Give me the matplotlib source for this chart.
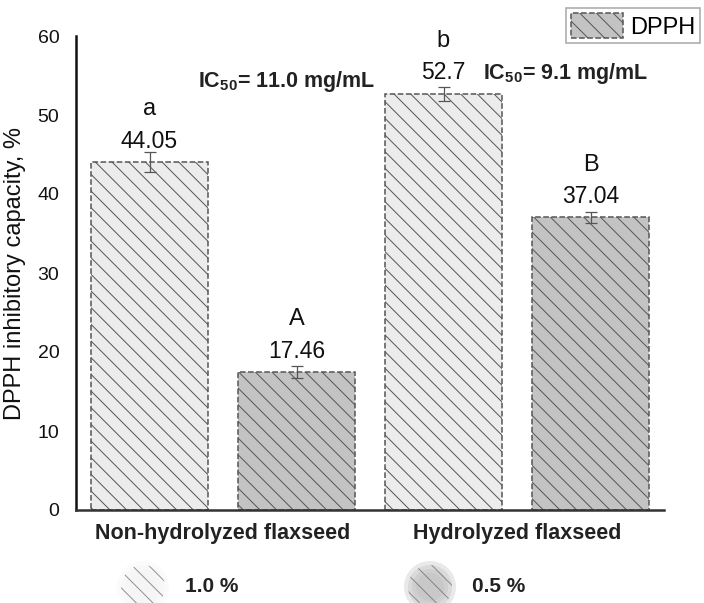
import numpy as np
import matplotlib
matplotlib.use("Agg")
import matplotlib.pyplot as plt
from matplotlib.patches import Patch, Circle

plt.rcParams['font.family'] = ['Liberation Sans', 'DejaVu Sans']
plt.rcParams['mathtext.fontset'] = 'custom'
plt.rcParams['mathtext.bf'] = 'Liberation Sans:bold'
plt.rcParams['mathtext.rm'] = 'Liberation Sans'
plt.rcParams['hatch.linewidth'] = 0.7
plt.rcParams['hatch.color'] = '#555555'

# Dados
groups = ["Non-hydrolyzed flaxseed", "Hydrolyzed flaxseed"]
conc_labels = ["1.0 %", "0.5 %"]
values = [44.05, 17.46, 52.7, 37.04]
errors = [1.3, 0.8, 0.9, 0.7]
value_labels = ["44.05", "17.46", "52.7", "37.04"]
letters = ["a", "A", "b", "B"]
ic50_labels = [r"$\mathbf{IC_{50}}$= 11.0 mg/mL", r"$\mathbf{IC_{50}}$= 9.1 mg/mL"]

light = '#ececec'
dark = '#c3c3c3'
colors = [light, dark, light, dark]

fig = plt.figure(figsize=(7.04, 6.03), dpi=100)
ax = fig.add_axes([76/704, 1 - 510/603, (664 - 76)/704, (510 - 36)/603])

x = np.arange(len(values))
ax.bar(x, values, width=0.8, color=colors, edgecolor='#555555', linestyle='--',
       linewidth=1.1, hatch='\\\\', zorder=2)
ax.errorbar(x, values, yerr=errors, fmt='none', ecolor='#555555', elinewidth=0.9,
            capsize=4, capthick=0.9, zorder=3)

for xi, v, lab, let in zip(x, values, value_labels, letters):
    ax.annotate(lab, (xi, v), xytext=(0, 15), textcoords='offset points',
                ha='center', va='center', fontsize=16.5, color='#111111')
    ax.annotate(let, (xi, v), xytext=(0, 38), textcoords='offset points',
                ha='center', va='center', fontsize=17, color='#111111')

# IC50
ax.text(0.93, 54.3, ic50_labels[0], ha='center', va='center', fontsize=15.5,
        fontweight='bold', color='#222222')
ax.text(2.83, 55.2, ic50_labels[1], ha='center', va='center', fontsize=15.5,
        fontweight='bold', color='#222222')

ax.set_xlim(-0.5, 3.5)
ax.set_ylim(0, 60)
ax.set_yticks(np.arange(0, 61, 10))
ax.set_xticks([0.5, 2.5])
ax.set_xticklabels(groups, fontsize=15.5, fontweight='bold', color='#222222')
ax.tick_params(axis='y', length=0, pad=12, labelsize=14, labelcolor='#111111')
ax.tick_params(axis='x', length=0, pad=9)
ax.set_ylabel("DPPH inhibitory capacity, %", fontsize=17, labelpad=8, color='#111111')

for s in ['top', 'right']:
    ax.spines[s].set_visible(False)
ax.spines['left'].set_linewidth(1.8)
ax.spines['left'].set_color('#111111')
ax.spines['bottom'].set_linewidth(1.8)
ax.spines['bottom'].set_color('#333333')

# legenda superior
handle = Patch(facecolor=dark, edgecolor='#555555', linestyle='--', hatch='\\\\', linewidth=1.1)
leg = fig.legend([handle], ["DPPH"], loc='upper left', bbox_to_anchor=(566/704, 1 - 8/603),
                 fontsize=17, frameon=True, fancybox=False, edgecolor='#999999',
                 handlelength=2.2, handleheight=1.3, borderpad=0.2, handletextpad=0.3,
                 borderaxespad=0.0)
leg.get_frame().set_linewidth(1.2)

# legenda inferior (manchas circulares)
for cx, fc, lab in [(143, '#f4f4f4', conc_labels[0]), (430, '#b8b8b8', conc_labels[1])]:
    fy = 1 - 587 / 603
    for r in [26, 22, 18, 14]:
        c = Circle((cx, 603 - 587), r, transform=None, facecolor=fc, edgecolor='none',
                   alpha=0.3)
        fig.patches.append(c)
    c = Circle((cx, 603 - 587), 22, transform=None, facecolor='none', edgecolor='#666666',
               linewidth=0, hatch='\\\\', alpha=0.7)
    fig.patches.append(c)
    fig.text((cx + 42) / 704, fy, lab, ha='left', va='center', fontsize=15,
             fontweight='bold', color='#222222')

fig.savefig("out.png", dpi=100)
